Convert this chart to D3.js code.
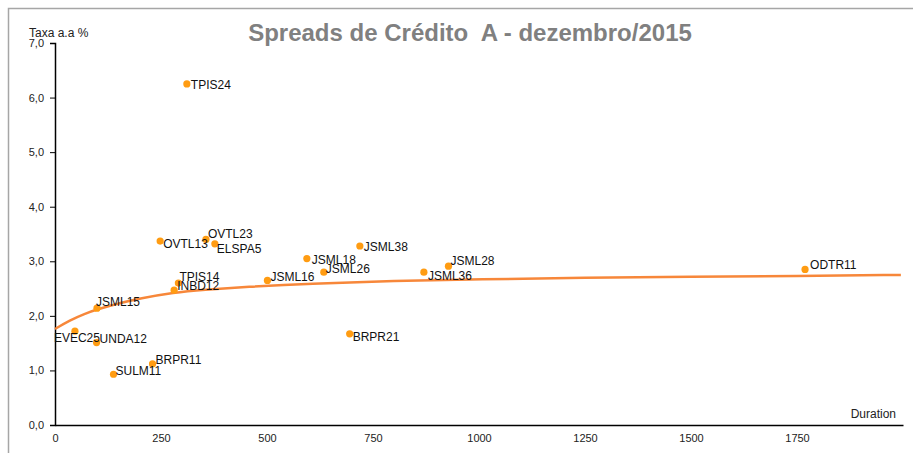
<!DOCTYPE html>
<html>
<head>
<meta charset="utf-8">
<script src="https://cdn.jsdelivr.net/npm/d3@7.9.0/dist/d3.min.js"></script>
<style>
  html, body { margin: 0; padding: 0; background: #fff; }
  svg { display: block; font-family: "Liberation Sans", Arial, sans-serif; }
</style>
</head>
<body>
<svg id="chart" width="913" height="453"></svg>
<script>
// Bond names, duration (days) and rate (% a.a.)
const names = ["TPIS24", "OVTL13", "OVTL23", "ELSPA5", "TPIS14", "INBD12", "JSML15",
  "EVEC25", "UNDA12", "BRPR11", "SULM11", "JSML16", "JSML18", "JSML38", "JSML26",
  "BRPR21", "JSML36", "JSML28", "ODTR11"];
const durations = [311, 248, 356, 377, 291, 281, 99, 47, 98, 230, 138, 501, 594, 719,
  634, 695, 870, 928, 1769];
const rates = [6.25, 3.37, 3.40, 3.32, 2.60, 2.47, 2.14, 1.72, 1.51, 1.12, 0.93, 2.65,
  3.05, 3.28, 2.80, 1.67, 2.80, 2.91, 2.85];

// Fitted curve
const curveDur = [0, 35, 70, 100, 150, 200, 280, 350, 450, 600, 800, 1000, 1250, 1500, 1750, 1995];
const curveRate = [1.76, 1.92, 2.04, 2.12, 2.23, 2.32, 2.43, 2.48, 2.53, 2.59, 2.64, 2.67, 2.70, 2.72, 2.73, 2.75];

const xTicks = [0, 250, 500, 750, 1000, 1250, 1500, 1750];
const yTicks = [0, 1, 2, 3, 4, 5, 6, 7];

// label placement: [dx, dy (text centre vs point), anchor]
const labelPos = {
  TPIS24: [4, 1, "start"], OVTL13: [3, 3, "start"], OVTL23: [2, -5, "start"],
  ELSPA5: [2, 5, "start"], TPIS14: [1, -6, "start"], INBD12: [3, -4, "start"],
  JSML15: [-1, -6, "start"], EVEC25: [2, 7, "middle"], UNDA12: [3, -4, "start"],
  BRPR11: [3, -4, "start"], SULM11: [2, -3, "start"], JSML16: [3, -3, "start"],
  JSML18: [5, 1, "start"], JSML38: [4, 1, "start"], JSML26: [2, -3, "start"],
  BRPR21: [3, 3, "start"], JSML36: [4, 4, "start"], JSML28: [2, -5, "start"],
  ODTR11: [5, -4, "start"]
};

const svg = d3.select("#chart");
const margin = { left: 55, right: 10, top: 43, bottom: 28 };
const width = 903;
const height = 425;

const x = d3.scaleLinear().domain([0, 2000]).range([margin.left, width]);
const y = d3.scaleLinear().domain([0, 7]).range([height, margin.top]);

// outer frame
svg.append("rect")
  .attr("x", 8.5).attr("y", 8.5)
  .attr("width", 1000).attr("height", 1000)
  .attr("fill", "none")
  .attr("stroke", "#a6a6a6")
  .attr("stroke-width", 1.5);

// title
svg.append("text")
  .attr("x", 470).attr("y", 41)
  .attr("text-anchor", "middle")
  .attr("font-size", 24)
  .attr("font-weight", "bold")
  .attr("fill", "#808080")
  .style("white-space", "pre")
  .text("Spreads de Crédito  A - dezembro/2015");

// y axis
const yAxis = svg.append("g")
  .attr("transform", `translate(${margin.left},0)`)
  .call(d3.axisLeft(y).tickValues(yTicks).tickSize(5).tickPadding(6)
    .tickFormat(d => d3.format(".1f")(d).replace(".", ",")));
yAxis.select(".domain").attr("stroke", "#000").attr("stroke-width", 1.5);
yAxis.selectAll("text").attr("font-size", 11).attr("fill", "#222")
  .attr("font-family", "Liberation Sans, Arial, sans-serif");

// x axis
const xAxis = svg.append("g")
  .attr("transform", `translate(0,${height})`)
  .call(d3.axisBottom(x).tickValues(xTicks).tickSize(0).tickPadding(9)
    .tickFormat(d3.format("d")));
xAxis.select(".domain").attr("stroke", "#000").attr("stroke-width", 1.5);
xAxis.selectAll("text").attr("font-size", 11).attr("fill", "#222")
  .attr("font-family", "Liberation Sans, Arial, sans-serif");

// axis titles
svg.append("text")
  .attr("x", 29).attr("y", 37)
  .attr("font-size", 12).attr("fill", "#222")
  .text("Taxa a.a %");
svg.append("text")
  .attr("x", 896).attr("y", 418)
  .attr("text-anchor", "end")
  .attr("font-size", 12).attr("fill", "#222")
  .text("Duration");

// trend curve
const curveData = curveDur.map((d, i) => [d, curveRate[i]]);
svg.append("path")
  .datum(curveData)
  .attr("fill", "none")
  .attr("stroke", "#f7873a")
  .attr("stroke-width", 2.5)
  .attr("d", d3.line().x(d => x(d[0])).y(d => y(d[1])).curve(d3.curveBasis));

// points
const pts = names.map((n, i) => ({ name: n, dur: durations[i], rate: rates[i] }));

svg.append("g").selectAll("circle")
  .data(pts)
  .join("circle")
  .attr("cx", d => x(d.dur))
  .attr("cy", d => y(d.rate))
  .attr("r", 3.6)
  .attr("fill", "#ff9c12");

svg.append("g").selectAll("text")
  .data(pts)
  .join("text")
  .attr("x", d => x(d.dur) + labelPos[d.name][0])
  .attr("y", d => y(d.rate) + labelPos[d.name][1] + 4)
  .attr("text-anchor", d => labelPos[d.name][2])
  .attr("font-size", 12)
  .attr("fill", "#111")
  .text(d => d.name);
</script>
</body>
</html>
